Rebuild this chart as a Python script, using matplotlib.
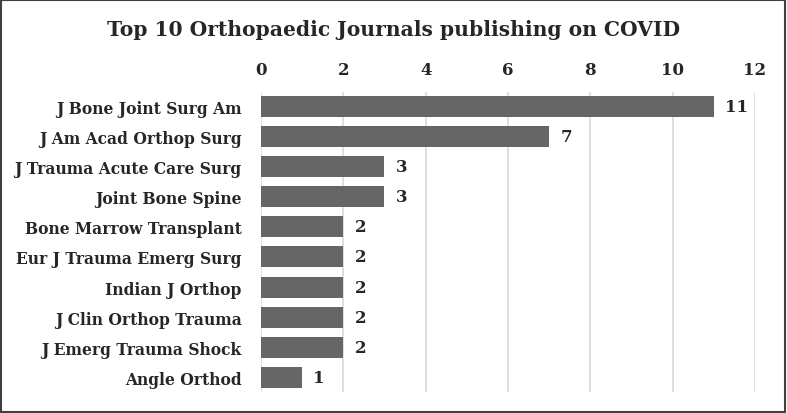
import matplotlib.pyplot as plt
from matplotlib.patches import Rectangle

journals = [
    "J Bone Joint Surg Am",
    "J Am Acad Orthop Surg",
    "J Trauma Acute Care Surg",
    "Joint Bone Spine",
    "Bone Marrow Transplant",
    "Eur J Trauma Emerg Surg",
    "Indian J Orthop",
    "J Clin Orthop Trauma",
    "J Emerg Trauma Shock",
    "Angle Orthod",
]
counts = [11, 7, 3, 3, 2, 2, 2, 2, 2, 1]
x_ticks = [0, 2, 4, 6, 8, 10, 12]

plt.rcParams["font.family"] = ["DejaVu Serif"]
plt.rcParams["font.weight"] = "bold"
text_color = "#262626"

fig = plt.figure(figsize=(7.87, 4.14), dpi=100)
ax = fig.add_axes([0.3316, 0.0507, 0.6277, 0.7247])

ax.barh(range(len(journals)), counts, height=0.7, color="#666666", zorder=3)
for i, c in enumerate(counts):
    ax.text(c + 0.27, i, str(c), va="center", ha="left", fontsize=12,
            fontweight="bold", color=text_color)

ax.set_ylim(len(journals) - 0.5, -0.5)
ax.set_xlim(0, 12)
ax.set_xticks(x_ticks)
ax.set_yticks(range(len(journals)))
ax.set_yticklabels(journals)
ax.xaxis.tick_top()
ax.tick_params(axis="both", length=0, labelsize=11.2, labelcolor=text_color)
ax.tick_params(axis="x", pad=10, labelsize=12)
ax.tick_params(axis="y", pad=14)
for lab in ax.get_xticklabels() + ax.get_yticklabels():
    lab.set_fontweight("bold")
ax.grid(axis="x", color="#d9d9d9", linewidth=1.2, zorder=0)
for s in ax.spines.values():
    s.set_visible(False)

fig.text(0.5, 0.928, "Top 10 Orthopaedic Journals publishing on COVID",
         ha="center", va="center", fontsize=14.6, fontweight="bold", color=text_color)

fig.patches.append(Rectangle((0.001, 0.002), 0.997, 0.995, transform=fig.transFigure,
                             fill=False, edgecolor="#404040", linewidth=1.5))

fig.savefig("out.png", dpi=100)
